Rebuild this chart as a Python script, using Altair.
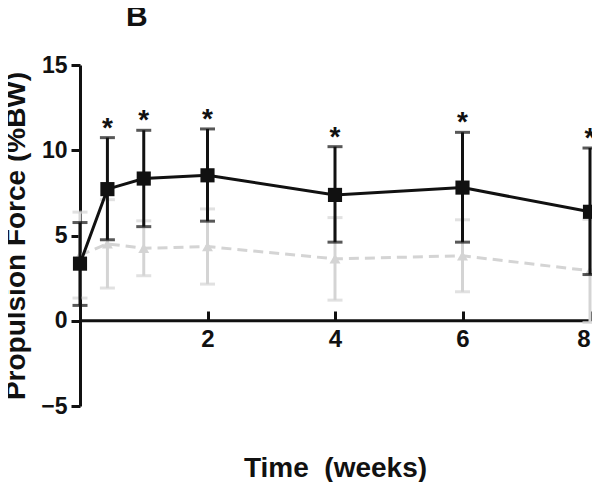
import altair as alt
import pandas as pd

weeks = [0, 0.43, 1, 2, 4, 6, 8]
trained_mean = [3.35, 7.72, 8.34, 8.53, 7.38, 7.81, 6.39]
trained_hi = [5.76, 10.74, 11.17, 11.25, 10.21, 11.05, 10.13]
trained_lo = [0.90, 4.75, 5.52, 5.84, 4.61, 4.61, 2.71]
control_mean = [3.85, 4.51, 4.25, 4.35, 3.63, 3.81, 2.93]
control_hi = [6.37, 7.10, 5.86, 6.56, 6.05, 5.92, 5.95]
control_lo = [1.33, 1.92, 2.64, 2.15, 1.21, 1.70, -0.10]
star_weeks = [0.43, 1, 2, 4, 6, 8]
star_tops = [10.74, 11.17, 11.25, 10.21, 11.05, 10.13]

black = "#111111"
gray = "#d4d4d4"
FONT = "Liberation Sans"

df_t = pd.DataFrame({"w": weeks, "m": trained_mean, "hi": trained_hi, "lo": trained_lo})
df_c = pd.DataFrame({"w": weeks, "m": control_mean, "hi": control_hi, "lo": control_lo})
df_s = pd.DataFrame({"w": star_weeks, "top": star_tops})
df_z = pd.DataFrame({"w0": [0], "w1": [8], "y": [0]})

xscale = alt.Scale(domain=[0, 8], nice=False, zero=False)
yscale = alt.Scale(domain=[-5, 15], nice=False)

xaxis = alt.Axis(
    values=[2, 4, 6, 8], format="d", domain=False, grid=False,
    tickSize=10, tickWidth=3, tickColor=black, offset=-95,
    labelFont=FONT, labelFontSize=24, labelFontWeight="bold", labelColor=black,
    labelPadding=6,
    title="Time\u00a0\u00a0(weeks)", titleFont=FONT, titleFontSize=28, titleFontWeight="bold",
    titleColor=black, titleY=157, titleBaseline="middle",
)
yaxis = alt.Axis(
    values=[-5, 0, 5, 10, 15], grid=False, domainWidth=3, domainColor=black,
    tickSize=9, tickWidth=3, tickColor=black,
    labelFont=FONT, labelFontSize=23, labelFontWeight="bold", labelColor=black,
    labelPadding=4,
    title="Propulsion Force (%BW)", titleFont=FONT, titleFontSize=28,
    titleFontWeight="bold", titleColor=black, titlePadding=10,
)

X = alt.X("w:Q", scale=xscale, axis=xaxis)
Y = alt.Y("m:Q", scale=yscale, axis=yaxis)

def group(df, color, shape, size, dash):
    base = alt.Chart(df)
    rule = base.mark_rule(color=color, strokeWidth=3).encode(
        x=alt.X("w:Q", scale=xscale), y=alt.Y("lo:Q", scale=yscale), y2="hi:Q")
    cap_hi = base.mark_tick(color=color, orient="horizontal", size=15, thickness=3).encode(
        x=alt.X("w:Q", scale=xscale), y=alt.Y("hi:Q", scale=yscale))
    cap_lo = base.mark_tick(color=color, orient="horizontal", size=15, thickness=3).encode(
        x=alt.X("w:Q", scale=xscale), y=alt.Y("lo:Q", scale=yscale))
    line_kw = dict(color=color, strokeWidth=3)
    if dash:
        line_kw["strokeDash"] = dash
    line = base.mark_line(**line_kw).encode(
        x=alt.X("w:Q", scale=xscale), y=alt.Y("m:Q", scale=yscale))
    pts = base.mark_point(shape=shape, filled=True, opacity=1, color=color, size=size).encode(
        x=alt.X("w:Q", scale=xscale), y=alt.Y("m:Q", scale=yscale))
    return [rule, cap_hi, cap_lo, line, pts]

axes_layer = alt.Chart(df_t).mark_point(opacity=0).encode(x=X, y=Y)
zero = alt.Chart(df_z).mark_rule(color=black, strokeWidth=3).encode(
    x=alt.X("w0:Q", scale=xscale), x2="w1:Q", y=alt.Y("y:Q", scale=yscale))
stars = alt.Chart(df_s).mark_text(
    text="*", font=FONT, fontSize=28, fontWeight="bold", color=black,
    baseline="bottom", dy=5).encode(
    x=alt.X("w:Q", scale=xscale), y=alt.Y("top:Q", scale=yscale))

layers = [axes_layer, zero] + group(df_c, gray, "triangle-up", 120, [10, 6]) \
    + group(df_t, black, "square", 200, None) + [stars]

chart = alt.layer(*layers).properties(
    width=510, height=341,
    background="white",
    title=alt.TitleParams("B", font=FONT, fontSize=30, fontWeight="bold", color=black,
                          anchor="start", frame="group", dx=46, offset=22),
    autosize=alt.AutoSizeParams(type="none"),
    padding={"left": 72, "top": 57, "right": 2, "bottom": 76},
).configure_view(stroke=None)

chart.save("out.html", embed_options={"renderer": "svg", "actions": False})
